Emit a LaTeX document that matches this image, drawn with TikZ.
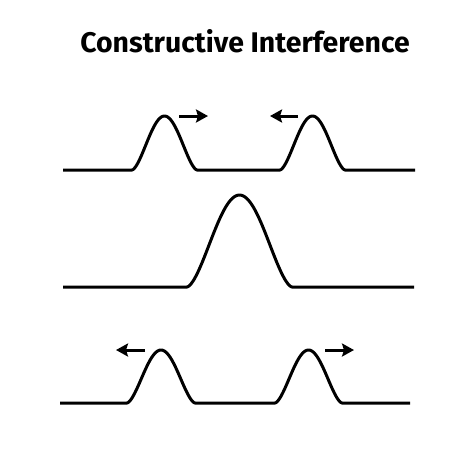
\documentclass[tikz,border=0pt]{standalone}
\usepackage{fontspec}
\setmainfont{Fira Sans}
\usetikzlibrary{arrows.meta}
\begin{document}
\begin{tikzpicture}[x=1pt,y=-1pt,
  declare function={bump(\t)=pow(abs(sin(180*\t)),1.6);},
  wave/.style={line width=3pt,line join=round,line cap=butt},
  motion/.style={line width=3pt,-{Stealth[length=12pt,width=13pt,inset=2pt]}},
  title/.style={font=\fontsize{28.4}{32}\selectfont\bfseries,inner sep=0pt,anchor=base}]
\useasboundingbox (0,0) rectangle (474,474);
\fill[white] (0,0) rectangle (474,474);
\node[title] (title) at (245,52) {Constructive Interference};
% row 1
\draw[wave] (63,170) -- (132,170)
  -- plot[domain=0:1,samples=61] ({132+65*\x},{170-54*bump(\x)})
  -- (280,170)
  -- plot[domain=0:1,samples=61] ({280+65*\x},{170-54*bump(\x)})
  -- (415,170);
\coordinate (a1s) at (179,116); \coordinate (a1e) at (208,116);
\coordinate (a2s) at (298,116); \coordinate (a2e) at (270,116);
\draw[motion] (a1s) -- (a1e);
\draw[motion] (a2s) -- (a2e);
% row 2
\draw[wave] (63,287) -- (187,287)
  -- plot[domain=0:1,samples=81] ({187+105*\x},{287-92*bump(\x)})
  -- (414,287);
% row 3
\draw[wave] (60,403) -- (127,403)
  -- plot[domain=0:1,samples=61] ({127+68*\x},{403-53*bump(\x)})
  -- (275,403)
  -- plot[domain=0:1,samples=61] ({275+67*\x},{403-53*bump(\x)})
  -- (410,403);
\coordinate (b1s) at (145,350); \coordinate (b1e) at (116,350);
\coordinate (b2s) at (325,350); \coordinate (b2e) at (354,350);
\draw[motion] (b1s) -- (b1e);
\draw[motion] (b2s) -- (b2e);
\end{tikzpicture}
\end{document}
